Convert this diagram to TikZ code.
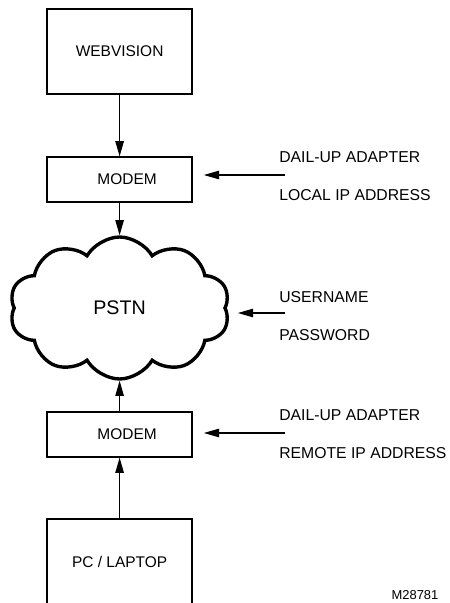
\documentclass[tikz,border=0pt]{standalone}
\usepackage{fontspec}
\setmainfont{Liberation Sans}
\usepackage{tikz}
\usetikzlibrary{arrows.meta,shapes.symbols,positioning,calc}
\tikzset{
	unit/.style={draw,line width=1pt,minimum width=3.625cm,font=\fontsize{11}{13}\selectfont},
	info/.style={anchor=west,inner sep=0pt,font=\fontsize{11.2}{13}\selectfont},
	link/.style={->,line width=0.9pt},
	feed/.style={link,shorten >=0.275cm}
}
\begin{document}
\begin{tikzpicture}[>={Triangle[length=0.38cm,width=0.21cm]}]
								\useasboundingbox (0,0) rectangle (11.225,-15.075);
								\node[unit,minimum height=2.125cm] (web) at (2.99,-1.29) {WEBVISION};
								\node[unit,minimum height=1.125cm] (modemA) at (2.99,-4.49) {\hspace{0.375cm}MODEM};
								\node[cloud,draw,line width=2.4pt,cloud puffs=10,cloud puff arc=120,minimum width=5.5cm,minimum height=3.55cm,font=\fontsize{14}{16}\selectfont] (pstn) at (2.99,-7.7) {PSTN};
								\node[unit,minimum height=1.125cm] (modemB) at (2.99,-10.86) {\hspace{0.375cm}MODEM};
								\node[unit,minimum height=2.15cm] (pc) at (2.99,-14.05) {PC / LAPTOP};
								\draw[link] (web.south) -- (modemA.north); \draw[link] (modemA.south) -- (pstn.north);
								\draw[link] (modemB.north) -- (pstn.south); \draw[link] (pc.north) -- (modemB.south);
								
								\node[info] (dialA) at (6.975,-3.925) {DAIL-UP ADAPTER}; \node[info] (localip) at (6.975,-4.875) {LOCAL IP ADDRESS};
								\coordinate (inA) at (7.125,-4.375); \draw[feed] (inA) -- (inA -| modemA.east);
								
								\node[info] (user) at (6.975,-7.425) {USERNAME}; \node[info] (pass) at (6.975,-8.375) {PASSWORD};
								\coordinate (inP) at (7.125,-7.825); \draw[feed] (inP) -- (inP -| pstn.east);
								
								\node[info] (dialB) at (6.975,-10.375) {DAIL-UP ADAPTER}; \node[info] (remoteip) at (6.975,-11.325) {REMOTE IP ADDRESS};
								\coordinate (inB) at (7.125,-10.825); \draw[feed] (inB) -- (inB -| modemB.east);
								
								\node[font=\fontsize{9.2}{11}\selectfont] (ref) at (10.375,-14.875) {M28781};
							\end{tikzpicture}
\end{document}
